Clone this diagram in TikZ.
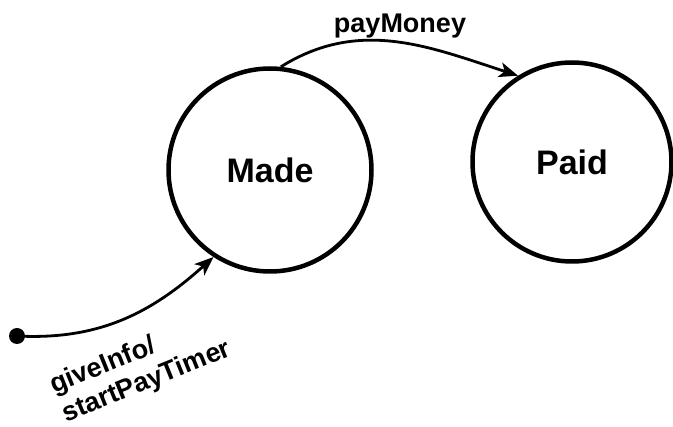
\documentclass[tikz,border=0pt]{standalone}
\usepackage{fontspec}
\setmainfont{Liberation Sans}
\usetikzlibrary{arrows.meta}
\begin{document}
\begin{tikzpicture}[x=1pt,y=-1pt,
  state/.style={circle,draw,line width=4.5pt,inner sep=0pt,font=\fontsize{34}{40}\selectfont\bfseries},
  trans/.style={line width=2.8pt,-{Stealth[length=19pt,width=15pt,inset=5pt]}},
  lbl/.style={font=\fontsize{27}{31}\selectfont\bfseries}]
\useasboundingbox (0,0) rectangle (673,427);
\node[state,minimum size=203pt] (made) at (270,170) {Made};
\node[state,minimum size=199pt] (paid) at (572,162) {Paid};
\fill (17,336) circle (8pt);
\coordinate (init) at (17,336);
\draw[trans] (init) to[out=-3,in=222] (made.237);
\draw[trans] (made.84) to[out=32,in=162] (paid.122);
\node[lbl] (pm) at (400,26) {payMoney};
\node[lbl,rotate=22,align=left,inner sep=1pt] (gi) at (141,368) {giveInfo/\\startPayTimer};
\end{tikzpicture}
\end{document}
